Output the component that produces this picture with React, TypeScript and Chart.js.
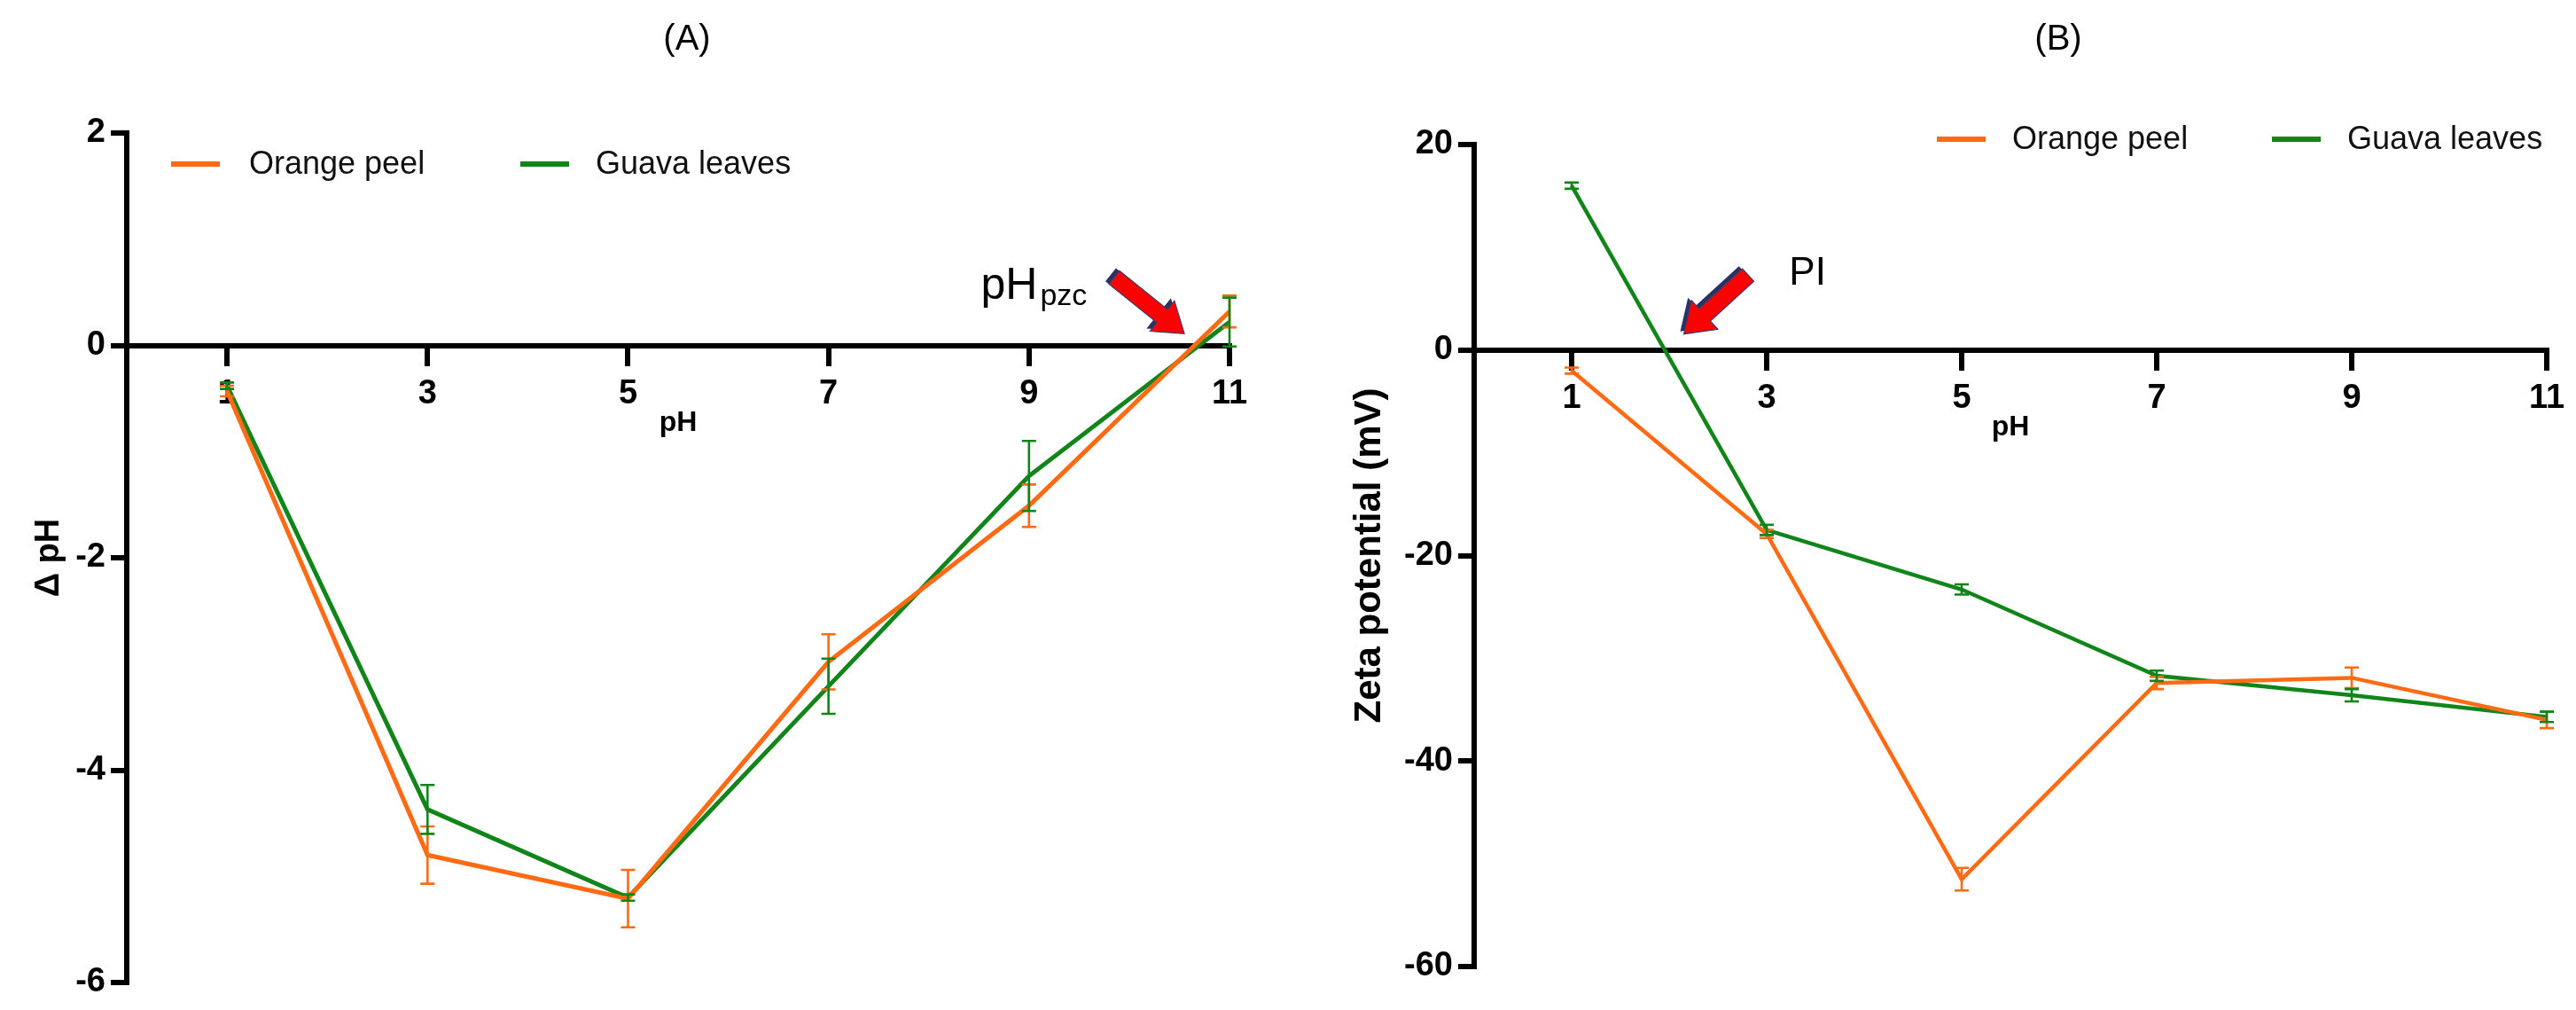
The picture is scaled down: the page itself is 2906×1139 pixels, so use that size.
import React, { useEffect, useRef } from 'react';
import { Chart, registerables } from 'chart.js';

Chart.register(...registerables);

const FONT = "'Liberation Sans', Arial, Helvetica, sans-serif";
const ORANGE = '#FF6A13';
const GREEN = '#12851A';

// ---------- data ----------
const PH = [1, 3, 5, 7, 9, 11];
const X_TICKS = [1, 3, 5, 7, 9, 11];
const SERIES_NAMES = ['Orange peel', 'Guava leaves'];

// Panel A: delta pH
const DPH_ORANGE = [-0.43, -4.8, -5.21, -2.98, -1.51, 0.32];
const DPH_ORANGE_ERR = [0.05, 0.27, 0.27, 0.26, 0.2, 0.15];
const DPH_GUAVA = [-0.38, -4.37, -5.2, -3.21, -1.23, 0.22];
const DPH_GUAVA_ERR = [0.03, 0.23, 0.03, 0.26, 0.33, 0.23];
const DPH_Y_RANGE = [-6, 2];
const DPH_Y_STEP = 2;

// Panel B: zeta potential (mV)
const ZETA_ORANGE = [-2.0, -17.9, -51.5, -32.4, -31.9, -36.0];
const ZETA_ORANGE_ERR = [0.3, 0.4, 1.1, 0.6, 1.0, 0.8];
const ZETA_GUAVA = [16.0, -17.5, -23.3, -31.7, -33.6, -35.7];
const ZETA_GUAVA_ERR = [0.3, 0.5, 0.5, 0.5, 0.6, 0.5];
const ZETA_Y_RANGE = [-60, 20];
const ZETA_Y_STEP = 20;

// annotation anchors (data coordinates)
const PZC_TEXT_AT = [8.52, 0.435];
const PZC_ARROW = [[9.85, 0.64], [10.55, 0.11]];
const PI_TEXT_AT = [3.23, 6.4];
const PI_ARROW = [[2.81, 7.3], [2.15, 1.56]];

type Spec = {
  key: string;
  width: number;
  height: number;
  values: number[][];
  errors: number[][];
  yRange: number[];
  yStep: number;
  yTitle: string;
  yTitleSize: number;
  lineWidth: number;
  padding: { left: number; right: number; top: number; bottom: number };
  yAxisWidth: number;
  titleText: string;
  titleX: number;
  legend: { lineX: number[]; textX: number[]; y: number };
  deco: (chart: any) => void;
};

function drawArrow(ctx: CanvasRenderingContext2D, x1: number, y1: number, x2: number, y2: number) {
  const shaftW = 19, headW = 44, headL = 32;
  const dx = x2 - x1, dy = y2 - y1;
  const len = Math.hypot(dx, dy);
  const ux = dx / len, uy = dy / len;
  const nx = -uy, ny = ux;
  const bx = x2 - ux * headL, by = y2 - uy * headL;
  const pts: number[][] = [
    [x1 + nx * shaftW / 2, y1 + ny * shaftW / 2],
    [bx + nx * shaftW / 2, by + ny * shaftW / 2],
    [bx + nx * headW / 2, by + ny * headW / 2],
    [x2, y2],
    [bx - nx * headW / 2, by - ny * headW / 2],
    [bx - nx * shaftW / 2, by - ny * shaftW / 2],
    [x1 - nx * shaftW / 2, y1 - ny * shaftW / 2],
  ];
  const path = (ox: number, oy: number) => {
    ctx.beginPath();
    pts.forEach((p, i) => (i === 0 ? ctx.moveTo(p[0] + ox, p[1] + oy) : ctx.lineTo(p[0] + ox, p[1] + oy)));
    ctx.closePath();
  };
  ctx.save();
  path(-4, -3);
  ctx.fillStyle = '#2B3160';
  ctx.fill();
  path(0, 0);
  ctx.fillStyle = '#FF0000';
  ctx.fill();
  ctx.lineWidth = 1.2;
  ctx.strokeStyle = '#3A3F6E';
  ctx.stroke();
  ctx.restore();
}

function makePlugin(spec: Spec) {
  return {
    id: 'deco' + spec.key,
    afterDatasetsDraw(chart: any) {
      const ctx: CanvasRenderingContext2D = chart.ctx;
      const xs = chart.scales.x;
      const ys = chart.scales.y;
      const colors = [ORANGE, GREEN];
      ctx.save();
      ctx.lineWidth = 2.6;
      spec.values.forEach((vals, di) => {
        ctx.strokeStyle = colors[di];
        PH.forEach((p, i) => {
          const x = xs.getPixelForValue(p);
          const yt = ys.getPixelForValue(vals[i] + spec.errors[di][i]);
          const yb = ys.getPixelForValue(vals[i] - spec.errors[di][i]);
          ctx.beginPath();
          ctx.moveTo(x, yt);
          ctx.lineTo(x, yb);
          ctx.moveTo(x - 8, yt);
          ctx.lineTo(x + 8, yt);
          ctx.moveTo(x - 8, yb);
          ctx.lineTo(x + 8, yb);
          ctx.stroke();
        });
      });
      ctx.restore();
    },
    afterDraw(chart: any) {
      const ctx: CanvasRenderingContext2D = chart.ctx;
      ctx.save();
      ctx.fillStyle = '#000';
      ctx.font = `40px ${FONT}`;
      ctx.textAlign = 'center';
      ctx.textBaseline = 'middle';
      ctx.fillText(spec.titleText, spec.titleX, 45);
      const colors = [ORANGE, GREEN];
      ctx.font = `36px ${FONT}`;
      ctx.textAlign = 'left';
      SERIES_NAMES.forEach((name, i) => {
        ctx.strokeStyle = colors[i];
        ctx.lineWidth = 6;
        ctx.beginPath();
        ctx.moveTo(spec.legend.lineX[i], spec.legend.y);
        ctx.lineTo(spec.legend.lineX[i] + 55, spec.legend.y);
        ctx.stroke();
        ctx.fillStyle = '#111';
        ctx.fillText(name, spec.legend.textX[i], spec.legend.y + 1);
      });
      ctx.restore();
      spec.deco(chart);
    },
  };
}

function makeConfig(spec: Spec): any {
  const datasets = spec.values.map((vals, di) => ({
    label: SERIES_NAMES[di],
    data: PH.map((p, i) => ({ x: p, y: vals[i] })),
    borderColor: di === 0 ? ORANGE : GREEN,
    backgroundColor: di === 0 ? ORANGE : GREEN,
    borderWidth: spec.lineWidth,
    pointRadius: 0,
    tension: 0,
    fill: false,
  }));
  const tickFont = { family: FONT, size: 38, weight: 'bold' as const };
  return {
    type: 'line',
    data: { datasets },
    options: {
      animation: false,
      responsive: false,
      devicePixelRatio: 1,
      layout: { padding: spec.padding },
      plugins: { legend: { display: false }, title: { display: false }, tooltip: { enabled: false } },
      scales: {
        x: {
          type: 'linear',
          min: 0,
          max: 11,
          position: { y: 0 },
          afterBuildTicks: (s: any) => {
            s.ticks = X_TICKS.map((v) => ({ value: v }));
          },
          afterFit: (s: any) => {
            s.height = 110;
          },
          ticks: { font: tickFont, color: '#000', padding: 12, autoSkip: false, maxRotation: 0 },
          grid: {
            drawOnChartArea: false,
            drawTicks: true,
            tickLength: 20,
            tickWidth: 6,
            tickColor: '#000',
            color: '#000',
            lineWidth: 6,
          },
          border: { display: true, width: 6, color: '#000' },
          title: {
            display: true,
            text: 'pH',
            color: '#000',
            font: { family: FONT, size: 32, weight: 'bold' },
            padding: { top: 0, bottom: 3 },
          },
        },
        y: {
          type: 'linear',
          position: 'left',
          min: spec.yRange[0],
          max: spec.yRange[1],
          afterFit: (s: any) => {
            s.width = spec.yAxisWidth;
          },
          ticks: { stepSize: spec.yStep, font: tickFont, color: '#000', padding: 6 },
          grid: {
            drawOnChartArea: false,
            drawTicks: true,
            tickLength: 18,
            tickWidth: 6,
            tickColor: '#000',
            color: '#000',
            lineWidth: 6,
          },
          border: { display: true, width: 6, color: '#000' },
          title: {
            display: true,
            text: spec.yTitle,
            color: '#000',
            font: { family: FONT, size: spec.yTitleSize, weight: 'bold' },
            padding: 0,
          },
        },
      },
    },
    plugins: [makePlugin(spec)],
  };
}

const CANVAS_H = 1139;

const SPEC_A: Spec = {
  key: 'A',
  width: 1450,
  height: CANVAS_H,
  values: [DPH_ORANGE, DPH_GUAVA],
  errors: [DPH_ORANGE_ERR, DPH_GUAVA_ERR],
  yRange: DPH_Y_RANGE,
  yStep: DPH_Y_STEP,
  yTitle: 'Δ pH',
  yTitleSize: 38,
  lineWidth: 5,
  padding: { left: 33, right: 63, top: 150, bottom: 31 },
  yAxisWidth: 110,
  titleText: '(A)',
  titleX: 775,
  legend: { lineX: [193, 587], textX: [281, 672], y: 185 },
  deco: (chart: any) => {
    const ctx: CanvasRenderingContext2D = chart.ctx;
    const xs = chart.scales.x;
    const ys = chart.scales.y;
    ctx.save();
    ctx.fillStyle = '#000';
    ctx.textBaseline = 'alphabetic';
    ctx.textAlign = 'left';
    const tx = xs.getPixelForValue(PZC_TEXT_AT[0]);
    const ty = ys.getPixelForValue(PZC_TEXT_AT[1]);
    ctx.font = `50px ${FONT}`;
    ctx.fillText('pH', tx, ty);
    const w = ctx.measureText('pH').width;
    ctx.font = `34px ${FONT}`;
    ctx.fillText('pzc', tx + w + 3, ty + 7);
    ctx.restore();
    drawArrow(
      ctx,
      xs.getPixelForValue(PZC_ARROW[0][0]),
      ys.getPixelForValue(PZC_ARROW[0][1]),
      xs.getPixelForValue(PZC_ARROW[1][0]),
      ys.getPixelForValue(PZC_ARROW[1][1])
    );
  },
};

const SPEC_B: Spec = {
  key: 'B',
  width: 1456,
  height: CANVAS_H,
  values: [ZETA_ORANGE, ZETA_GUAVA],
  errors: [ZETA_ORANGE_ERR, ZETA_GUAVA_ERR],
  yRange: ZETA_Y_RANGE,
  yStep: ZETA_Y_STEP,
  yTitle: 'Zeta potential (mV)',
  yTitleSize: 42,
  lineWidth: 4.5,
  padding: { left: 70, right: 33, top: 163, bottom: 49 },
  yAxisWidth: 143,
  titleText: '(B)',
  titleX: 872,
  legend: { lineX: [735, 1113], textX: [820, 1198], y: 157 },
  deco: (chart: any) => {
    const ctx: CanvasRenderingContext2D = chart.ctx;
    const xs = chart.scales.x;
    const ys = chart.scales.y;
    ctx.save();
    ctx.fillStyle = '#000';
    ctx.textBaseline = 'alphabetic';
    ctx.textAlign = 'left';
    ctx.font = `44px ${FONT}`;
    ctx.fillText('PI', xs.getPixelForValue(PI_TEXT_AT[0]), ys.getPixelForValue(PI_TEXT_AT[1]));
    ctx.restore();
    drawArrow(
      ctx,
      xs.getPixelForValue(PI_ARROW[0][0]),
      ys.getPixelForValue(PI_ARROW[0][1]),
      xs.getPixelForValue(PI_ARROW[1][0]),
      ys.getPixelForValue(PI_ARROW[1][1])
    );
  },
};

function Panel({ spec, left }: { spec: Spec; left: number }) {
  const ref = useRef<HTMLCanvasElement | null>(null);
  useEffect(() => {
    if (!ref.current) return;
    const chart = new Chart(ref.current, makeConfig(spec));
    return () => chart.destroy();
  }, [spec]);
  return (
    <div style={{ position: 'absolute', left, top: 0, width: spec.width, height: spec.height }}>
      <canvas ref={ref} width={spec.width} height={spec.height} style={{ display: 'block' }} />
    </div>
  );
}

export default function App() {
  return (
    <div
      style={{
        position: 'fixed',
        left: 0,
        top: 0,
        width: 2906,
        height: 1139,
        overflow: 'hidden',
        background: '#ffffff',
      }}
    >
      <Panel spec={SPEC_A} left={0} />
      <Panel spec={SPEC_B} left={1450} />
    </div>
  );
}
